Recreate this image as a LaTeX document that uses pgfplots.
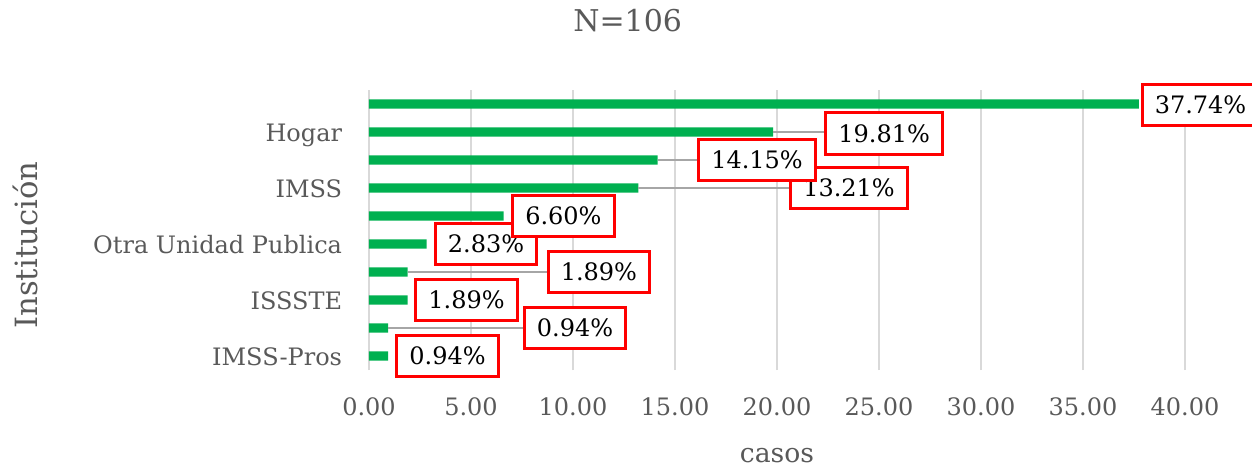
\documentclass[border=0pt]{standalone}
\usepackage{fontspec}
\setmainfont{DejaVu Serif}
\usepackage{pgfplots}
\usepackage{pgfplotstable}
\pgfplotsset{compat=1.18}
\definecolor{barg}{HTML}{00B050}
\definecolor{txt}{HTML}{595959}
\definecolor{gridc}{HTML}{D9D9D9}
\definecolor{lead}{HTML}{A6A6A6}

\pgfplotstableread{
y x
1 0.94
2 0.94
3 1.89
4 1.89
5 2.83
6 6.60
7 13.21
8 14.15
9 19.81
10 37.74
}\bars

\pgfplotstableread{
x y
0.94 2
10.10 2
nan nan
1.89 4
11.27 4
nan nan
13.21 7
23.53 7
nan nan
14.15 8
19.02 8
nan nan
19.81 9
25.25 9
}\leaders

\pgfplotstableread{
x y lab
3.85 1 0.94
10.10 2 0.94
4.78 3 1.89
11.27 4 1.89
5.74 5 2.83
9.53 6 6.60
23.53 7 13.21
19.02 8 14.15
25.25 8.95 19.81
40.76 9.96 37.74
}\labels

\begin{document}
\begin{tikzpicture}
\begin{axis}[
  name=ax,
  scale only axis,
  width=612pt, height=210pt,
  xmin=0, xmax=40, ymin=0.5, ymax=10.5,
  clip=false,
  axis line style={draw=none},
  major tick length=0pt,
  xmajorgrids,
  grid style={gridc, line width=1.5pt},
  xtick={0,5,...,40},
  ytick={1,3,5,7,9},
  yticklabels={IMSS-Pros,ISSSTE,Otra Unidad Publica,IMSS,Hogar},
  ticklabel style={font=\fontsize{18}{21.6}\selectfont, text=txt},
  xticklabel style={/pgf/number format/.cd, fixed, fixed zerofill, precision=2, assume math mode=true, /tikz/.cd, anchor=base, yshift=-33.75pt},
  yticklabel style={anchor=base east, inner sep=0pt, xshift=-20pt, yshift=-7pt},
  title={N=106},
  title style={at={(axis description cs:0.317,1)}, anchor=base, yshift=37.5pt, font=\fontsize{22.5}{26}\selectfont, text=txt},
  xlabel={casos},
  xlabel style={at={(axis description cs:0.5,-0.332)}, anchor=base, font=\fontsize{20}{24}\selectfont, text=txt},
  ylabel={Institución},
  ylabel style={at={(axis description cs:-0.4216,0.446)}, anchor=center, font=\fontsize{23}{27}\selectfont, text=txt},
]
\addplot[xbar, bar width=7pt, fill=barg, draw=none] table[x=x,y=y]{\bars};
\addplot[lead, line width=2pt, unbounded coords=jump, mark=none] table[x=x,y=y]{\leaders};
\addplot[only marks, mark=none, point meta=explicit symbolic,
  nodes near coords={\pgfplotspointmeta\%},
  nodes near coords style={anchor=center, draw=red, line width=2.25pt, fill=white, text=black,
    font=\fontsize{18}{21.6}\selectfont, inner xsep=9.5pt, inner ysep=0pt, minimum height=31pt}]
  table[x=x,y=y,meta=lab]{\labels};
\end{axis}
\pgfresetboundingbox
\path[use as bounding box] ([shift={(-276.75pt,-73.5pt)}]ax.south west) rectangle ++(939pt,351pt);
\end{tikzpicture}
\end{document}
